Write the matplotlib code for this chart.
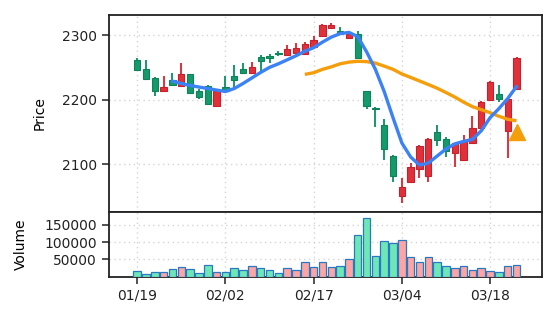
import matplotlib
matplotlib.use("Agg")
import matplotlib.pyplot as plt
import numpy as np

# ---- data ----
opens  = [2261, 2248, 2234, 2213, 2230, 2221, 2239, 2213, 2221, 2190,
          2220, 2237, 2247, 2242, 2266, 2267, 2273, 2269, 2273, 2271,
          2281, 2299, 2311, 2306, 2295, 2301, 2213, 2187, 2160, 2113,
          2050, 2072, 2092, 2081, 2150, 2139, 2117, 2106, 2132, 2156,
          2200, 2209, 2151, 2217]
highs  = [2264, 2261, 2235, 2236, 2241, 2256, 2240, 2217, 2222, 2215,
          2236, 2253, 2256, 2259, 2269, 2270, 2275, 2284, 2288, 2290,
          2298, 2318, 2319, 2312, 2302, 2306, 2214, 2188, 2170, 2114,
          2079, 2102, 2129, 2140, 2161, 2142, 2133, 2145, 2174, 2198,
          2229, 2223, 2202, 2266]
lows   = [2245, 2231, 2205, 2212, 2221, 2220, 2209, 2201, 2192, 2188,
          2212, 2219, 2241, 2241, 2244, 2257, 2268, 2268, 2272, 2270,
          2280, 2298, 2310, 2301, 2294, 2263, 2186, 2157, 2107, 2072,
          2040, 2071, 2079, 2072, 2128, 2111, 2096, 2105, 2131, 2155,
          2199, 2197, 2110, 2216]
closes = [2246, 2232, 2213, 2220, 2222, 2239, 2210, 2204, 2193, 2214,
          2213, 2231, 2242, 2250, 2260, 2264, 2270, 2278, 2280, 2286,
          2292, 2316, 2316, 2303, 2301, 2264, 2190, 2185, 2123, 2082,
          2064, 2096, 2128, 2139, 2137, 2121, 2132, 2136, 2156, 2197,
          2228, 2201, 2201, 2265]
volumes = [16800, 8100, 13900, 13900, 20900, 26700, 20900, 9300, 32500, 13900,
           13900, 23800, 18000, 29600, 23800, 18000, 11000, 23800, 19700, 41200,
           26700, 41200, 26700, 29600, 49900, 119500, 168800, 58600, 102100, 96300,
           105000, 55700, 42900, 55700, 42900, 29600, 23800, 31300, 19700, 23800,
           16800, 13900, 29600, 34200]
# short moving average (from index 4) and long moving average (from index 19)
ma_short_start = 4
ma_short = [2228.6, 2225.0, 2221.9, 2219.5, 2217.2, 2214.8, 2212.5, 2217.2, 2225.0, 2233.6,
            2242.2, 2250.0, 2255.5, 2261.7, 2268.0, 2275.0, 2280.5, 2289.1, 2296.9, 2302.3,
            2304.2, 2297.7, 2274.2, 2246.9, 2212.5, 2171.9, 2132.8, 2111.0, 2098.4, 2101.6,
            2112.5, 2123.4, 2131.3, 2135.2, 2138.3, 2151.6, 2171.9, 2186.0, 2201.6, 2220.3]
ma_long_start = 19
ma_long = [2239.1, 2241.7, 2246.9, 2250.8, 2255.5, 2258.1, 2259.4, 2258.9, 2256.6, 2252.0,
           2246.9, 2239.8, 2234.4, 2228.9, 2223.4, 2217.7, 2211.0, 2204.0, 2196.1, 2189.1,
           2184.4, 2179.7, 2174.2, 2169.5, 2167.2]
signal_idx = [43]
signal_price = [2150]
tick_idx = [0, 10, 20, 30, 40]
tick_labels = ["01/19", "02/02", "02/17", "03/04", "03/18"]

# ---- styles ----
UP = "#e0313b"
DOWN = "#159a6b"
UP_EDGE = "#c8202b"
DOWN_EDGE = "#0e8259"
VOL_UP = "#fca5a5"
VOL_DOWN = "#6ee7b7"
VOL_EDGE = "#2a78c2"
BLUE = "#3b82f6"
ORANGE = "#f59e0b"

fig = plt.figure(figsize=(5.56, 3.22), dpi=100)
gs = fig.add_gridspec(2, 1, height_ratios=[196.7, 64.8], hspace=0,
                      left=0.196, right=0.975, top=0.953, bottom=0.141)
ax = fig.add_subplot(gs[0])
axv = fig.add_subplot(gs[1], sharex=ax)

x = np.arange(len(opens))
o = np.array(opens, float); c = np.array(closes, float)
h = np.array(highs, float); l = np.array(lows, float)
up = c >= o
colors = np.where(up, UP, DOWN)
ecolors = np.where(up, UP_EDGE, DOWN_EDGE)

ax.vlines(x, l, h, colors=colors, linewidth=1.4, zorder=2)
ax.bar(x, np.abs(c - o), bottom=np.minimum(o, c), width=0.72,
       color=colors, edgecolor=ecolors, linewidth=0.8, zorder=3)

xs = np.arange(ma_short_start, ma_short_start + len(ma_short))
ax.plot(xs, ma_short, color=BLUE, linewidth=2.4, zorder=5, solid_capstyle="round")
xl = np.arange(ma_long_start, ma_long_start + len(ma_long))
ax.plot(xl, ma_long, color=ORANGE, linewidth=2.4, zorder=4, solid_capstyle="butt")
ax.plot(signal_idx, signal_price, linestyle="none", marker="^", markersize=12,
        color=ORANGE, zorder=6)

vcolors = np.where(up, VOL_UP, VOL_DOWN)
axv.bar(x, volumes, width=0.85, color=vcolors, edgecolor=VOL_EDGE, linewidth=0.9, zorder=3)

ax.set_xlim(-3.2, 45.9)
ax.set_ylim(2026, 2331)
axv.set_ylim(0, 188000)
ax.set_yticks([2100, 2200, 2300])
axv.set_yticks([50000, 100000, 150000])
axv.set_yticklabels(["50000", "100000", "150000"])
axv.set_xticks(tick_idx)
axv.set_xticklabels(tick_labels)
plt.setp(ax.get_xticklabels(), visible=False)
ax.tick_params(axis="x", length=0)

for a in (ax, axv):
    a.grid(True, linestyle=(0, (1, 2.5)), color="#d4d4d4", linewidth=1.0, zorder=0)
    a.set_axisbelow(True)
    for s in a.spines.values():
        s.set_linewidth(1.3)
        s.set_color("#222222")
    a.tick_params(axis="both", which="major", length=5, width=1.1,
                  labelsize=10, color="#222222", labelcolor="#222222")

ax.set_ylabel("Price", fontsize=10)
axv.set_ylabel("Volume", fontsize=10)
ax.yaxis.set_label_coords(-0.145, 0.5)
axv.yaxis.set_label_coords(-0.187, 0.5)

fig.savefig("out.png", dpi=100)
